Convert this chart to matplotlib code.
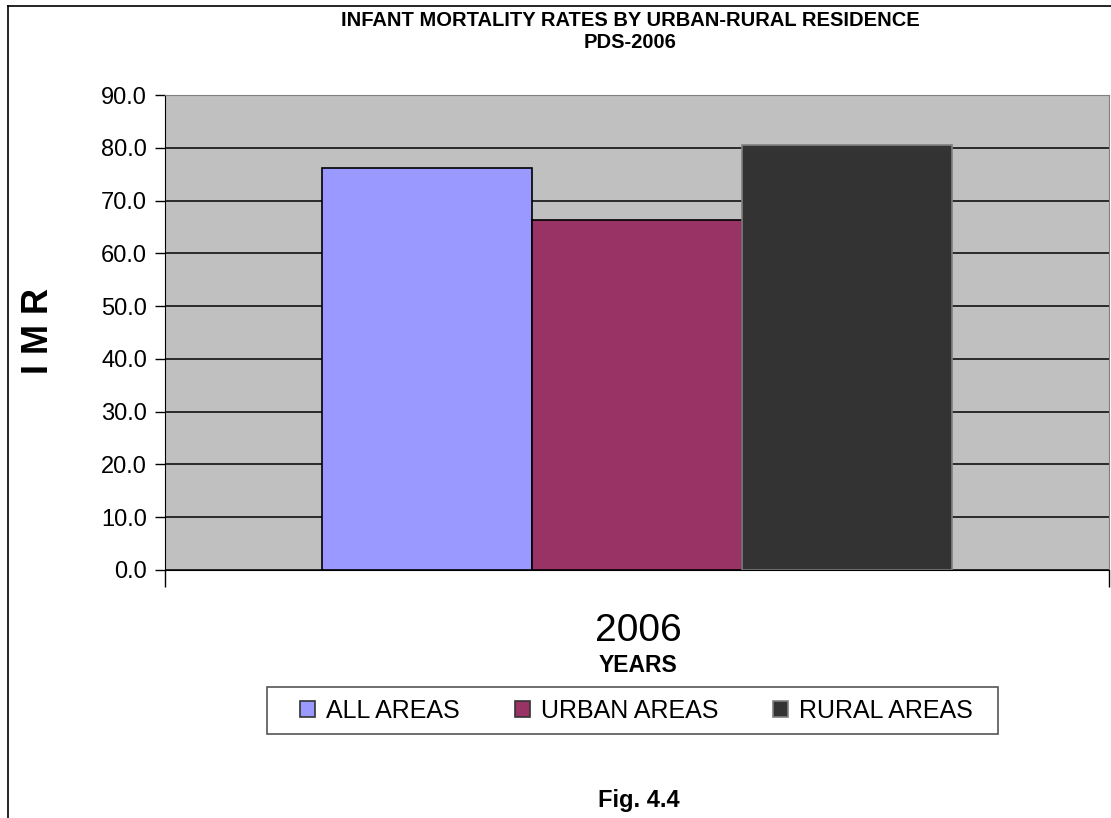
import matplotlib.pyplot as plt
from matplotlib.lines import Line2D
from matplotlib.patches import Patch, Rectangle

plt.rcParams['font.family'] = ['Liberation Sans', 'DejaVu Sans']

series = ['ALL AREAS', 'URBAN AREAS', 'RURAL AREAS']
imr = [76.1, 66.3, 80.5]
colors = ['#9999FF', '#993366', '#333333']
edges = ['#000000', '#000000', '#808080']
year = '2006'
yticks = [0, 10, 20, 30, 40, 50, 60, 70, 80, 90]

W, H = 1111, 818
fig = plt.figure(figsize=(W / 100, H / 100), dpi=100)
ax = fig.add_axes([165 / W, 248 / H, 944 / W, 475 / H])
ax.set_facecolor('#C0C0C0')

width = 210 / 944
offsets = [-width, 0, width]
for name, val, c, e, off in zip(series, imr, colors, edges, offsets):
    ax.bar(off, val, width=width, color=c, edgecolor=e, linewidth=1.2, zorder=3)

ax.set_xlim(-0.5, 0.5)
ax.set_ylim(0, 90)
ax.set_yticks(yticks)
ax.set_yticklabels([f'{t:.1f}' for t in yticks], fontsize=17)
ax.yaxis.grid(True, color='#2a2a2a', linewidth=1.4, zorder=1)
ax.set_axisbelow(True)
ax.tick_params(axis='y', direction='out', length=7, width=1, pad=6)

# category boundary ticks on the x axis
ax.set_xticks([-0.5, 0.5])
ax.set_xticklabels(['', ''])
ax.tick_params(axis='x', direction='out', length=12, width=1)
fig.text(638 / W, 1 - 631 / H, year, ha='center', va='center', fontsize=28)

for s in ['top', 'right']:
    ax.spines[s].set_color('#808080')
ax.spines['left'].set_color('black')
ax.spines['bottom'].set_color('black')
ax.spines['bottom'].set_zorder(4)

fig.text(630 / W, 1 - 20 / H, 'INFANT MORTALITY RATES BY URBAN-RURAL RESIDENCE',
         ha='center', va='center', fontsize=14.5, fontweight='bold')
fig.text(630 / W, 1 - 42 / H, 'PDS-2006', ha='center', va='center', fontsize=14.5, fontweight='bold')
fig.text(38 / W, 1 - 331 / H, 'I M R', rotation=90, ha='center', va='center',
         fontsize=26, fontweight='bold')
fig.text(638 / W, 1 - 665 / H, 'YEARS', ha='center', va='center', fontsize=16.5, fontweight='bold')
fig.text(639 / W, 1 - 800 / H, 'Fig. 4.4', ha='center', va='center', fontsize=17, fontweight='bold')

# legend box
fig.add_artist(Rectangle((267 / W, 1 - 734 / H), 731 / W, 47 / H, transform=fig.transFigure,
                         facecolor='white', edgecolor='#555555', linewidth=1.2))
handles = [Patch(facecolor=c, edgecolor=e if e != '#000000' else '#333333', linewidth=1.2)
           for c, e in zip(colors, edges)]
leg = fig.legend(handles, series, loc='center', ncol=3, fontsize=18,
                 bbox_to_anchor=(636.5 / W, 1 - 711 / H), frameon=False,
                 handlelength=0.6, handleheight=0.64, handletextpad=0.44,
                 columnspacing=2.2, borderpad=0, borderaxespad=0)

# outer frame (left and top edges visible)
fig.add_artist(Line2D([8 / W, 8 / W], [0, 1 - 6 / H], color='black', lw=1.2))
fig.add_artist(Line2D([8 / W, 1], [1 - 6 / H, 1 - 6 / H], color='black', lw=1.2))

fig.savefig('out.png', dpi=100)
